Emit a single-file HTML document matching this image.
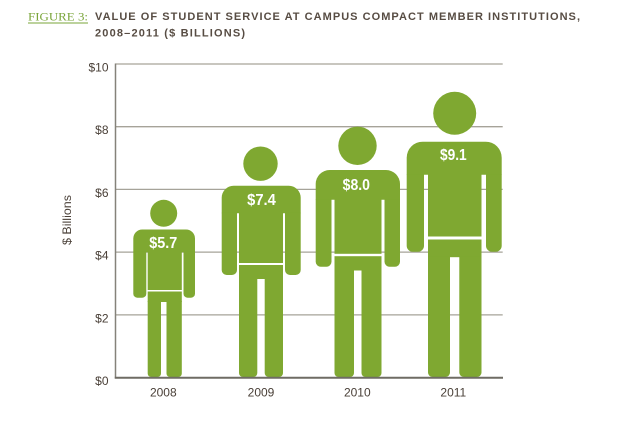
<!DOCTYPE html>
<html>
<head>
<meta charset="utf-8">
<style>
html,body{margin:0;padding:0;background:#fff;}
body{width:632px;height:439px;overflow:hidden;}
svg{display:block;}
text{font-family:"Liberation Sans",sans-serif;}
</style>
</head>
<body>
<svg width="632" height="439" viewBox="0 0 632 439" xmlns="http://www.w3.org/2000/svg">
  <!-- Title -->
  <text x="28" y="20.5" font-size="12" fill="#7aa53a" textLength="60" lengthAdjust="spacingAndGlyphs" style="font-family:'Liberation Serif',serif">FIGURE 3:</text>
  <line x1="28" y1="23" x2="88" y2="23" stroke="#7aa53a" stroke-width="1"/>
  <text x="95" y="20" font-size="11" font-weight="bold" fill="#574c43" textLength="485" lengthAdjust="spacing">VALUE OF STUDENT SERVICE AT CAMPUS COMPACT MEMBER INSTITUTIONS,</text>
  <text x="95" y="36.5" font-size="11" font-weight="bold" fill="#574c43" textLength="150" lengthAdjust="spacing">2008–2011 ($ BILLIONS)</text>

  <!-- Gridlines -->
  <g stroke="#a6a399" stroke-width="1.3">
    <line x1="115.5" y1="64" x2="502.7" y2="64"/>
    <line x1="115.5" y1="126.7" x2="502.7" y2="126.7"/>
    <line x1="115.5" y1="189.4" x2="502.7" y2="189.4"/>
    <line x1="115.5" y1="252.1" x2="502.7" y2="252.1"/>
    <line x1="115.5" y1="314.9" x2="502.7" y2="314.9"/>
  </g>

  <!-- Y tick labels -->
  <g font-size="12" fill="#4a4038" text-anchor="end">
    <text x="108.5" y="71.5">$10</text>
    <text x="108.5" y="134.2">$8</text>
    <text x="108.5" y="196.9">$6</text>
    <text x="108.5" y="259.6">$4</text>
    <text x="108.5" y="322.4">$2</text>
    <text x="108.5" y="385.2">$0</text>
  </g>

  <!-- Y axis title -->
  <text transform="translate(71,220) rotate(-90)" font-size="12" fill="#4a4038" text-anchor="middle" textLength="50" lengthAdjust="spacingAndGlyphs">$ Billions</text>

  <!-- Figures -->
  <g fill="#7fa831">
    <!-- 2008 -->
    <circle cx="163.7" cy="213.3" r="13.5"/>
    <path d="M133.3 252.2 V238.5 A9 9 0 0 1 142.3 229.5 H186 A9 9 0 0 1 195 238.5 V252.2 Z"/>
    <path d="M133.3 251.7 H146.3 V293.7 A4 4 0 0 1 142.3 297.7 H137.3 A4 4 0 0 1 133.3 293.7 Z"/>
    <path d="M183.5 251.7 H195 V293.7 A4 4 0 0 1 191 297.7 H187.5 A4 4 0 0 1 183.5 293.7 Z"/>
    <rect x="147.7" y="251.5" width="34.1" height="38.5"/>
    <rect x="147.7" y="291.5" width="34.1" height="10.5"/>
    <path d="M147.7 301 H161 V373.5 A3.5 3.5 0 0 1 157.5 377 H151.2 A3.5 3.5 0 0 1 147.7 373.5 Z"/>
    <path d="M166.5 301 H181.8 V373.5 A3.5 3.5 0 0 1 178.3 377 H170 A3.5 3.5 0 0 1 166.5 373.5 Z"/>

    <!-- 2009 -->
    <circle cx="260.5" cy="163.7" r="17.2"/>
    <path d="M221.7 213.2 V197.7 A12 12 0 0 1 233.7 185.7 H288.7 A12 12 0 0 1 300.7 197.7 V213.2 Z"/>
    <path d="M221.7 212.7 H237 V270 A5 5 0 0 1 232 275 H226.7 A5 5 0 0 1 221.7 270 Z"/>
    <path d="M285 212.7 H300.7 V270 A5 5 0 0 1 295.7 275 H290 A5 5 0 0 1 285 270 Z"/>
    <rect x="239" y="212.5" width="44" height="50.5"/>
    <rect x="239" y="265" width="44" height="14"/>
    <path d="M239 278 H257.3 V373 A4 4 0 0 1 253.3 377 H243 A4 4 0 0 1 239 373 Z"/>
    <path d="M264.7 278 H283 V373 A4 4 0 0 1 279 377 H268.7 A4 4 0 0 1 264.7 373 Z"/>

    <!-- 2010 -->
    <circle cx="357.5" cy="145.8" r="19.2"/>
    <path d="M315.7 199.8 V184 A14 14 0 0 1 329.7 170 H386 A14 14 0 0 1 400 184 V199.8 Z"/>
    <path d="M315.7 199.3 H331.5 V261.7 A5 5 0 0 1 326.5 266.7 H320.7 A5 5 0 0 1 315.7 261.7 Z"/>
    <path d="M384.5 199.3 H400 V261.7 A5 5 0 0 1 395 266.7 H389.5 A5 5 0 0 1 384.5 261.7 Z"/>
    <rect x="334.5" y="199" width="47" height="54.8"/>
    <rect x="334.5" y="256.2" width="47" height="14.3"/>
    <path d="M334.5 270 H354 V373 A4 4 0 0 1 350 377 H338.5 A4 4 0 0 1 334.5 373 Z"/>
    <path d="M361.5 270 H381.5 V373 A4 4 0 0 1 377.5 377 H365.5 A4 4 0 0 1 361.5 373 Z"/>

    <!-- 2011 -->
    <circle cx="454.7" cy="113.3" r="21.5"/>
    <path d="M406.7 174.8 V157.7 A16 16 0 0 1 422.7 141.7 H485.7 A16 16 0 0 1 501.7 157.7 V174.8 Z"/>
    <path d="M406.7 174.3 H424 V245.7 A6 6 0 0 1 418 251.7 H412.7 A6 6 0 0 1 406.7 245.7 Z"/>
    <path d="M486 174.3 H501.7 V245.7 A6 6 0 0 1 495.7 251.7 H492 A6 6 0 0 1 486 245.7 Z"/>
    <rect x="428" y="174" width="53.5" height="62.5"/>
    <rect x="428" y="239.5" width="53.5" height="17.7"/>
    <path d="M428 256.7 H450 V372.5 A4.5 4.5 0 0 1 445.5 377 H432.5 A4.5 4.5 0 0 1 428 372.5 Z"/>
    <path d="M459.3 256.7 H481.5 V372.5 A4.5 4.5 0 0 1 477 377 H463.8 A4.5 4.5 0 0 1 459.3 372.5 Z"/>
  </g>

  <!-- Value labels -->
  <g fill="#ffffff" font-size="16" font-weight="bold" text-anchor="middle">
    <text x="163.3" y="248" textLength="28" lengthAdjust="spacingAndGlyphs">$5.7</text>
    <text x="261.5" y="205" textLength="28.7" lengthAdjust="spacingAndGlyphs">$7.4</text>
    <text x="356.3" y="190" textLength="27.3" lengthAdjust="spacingAndGlyphs">$8.0</text>
    <text x="453.3" y="160" textLength="26.7" lengthAdjust="spacingAndGlyphs">$9.1</text>
  </g>

  <!-- Axes -->
  <line x1="115.5" y1="63.5" x2="115.5" y2="378.5" stroke="#85827a" stroke-width="1.5"/>
  <line x1="114.8" y1="377.7" x2="503" y2="377.7" stroke="#6f6c64" stroke-width="2"/>

  <!-- X labels -->
  <g font-size="12" fill="#4a4038" text-anchor="middle">
    <text x="163.3" y="396.7">2008</text>
    <text x="261" y="396.7">2009</text>
    <text x="357.3" y="396.7">2010</text>
    <text x="453.3" y="396.7">2011</text>
  </g>
</svg>
</body>
</html>
